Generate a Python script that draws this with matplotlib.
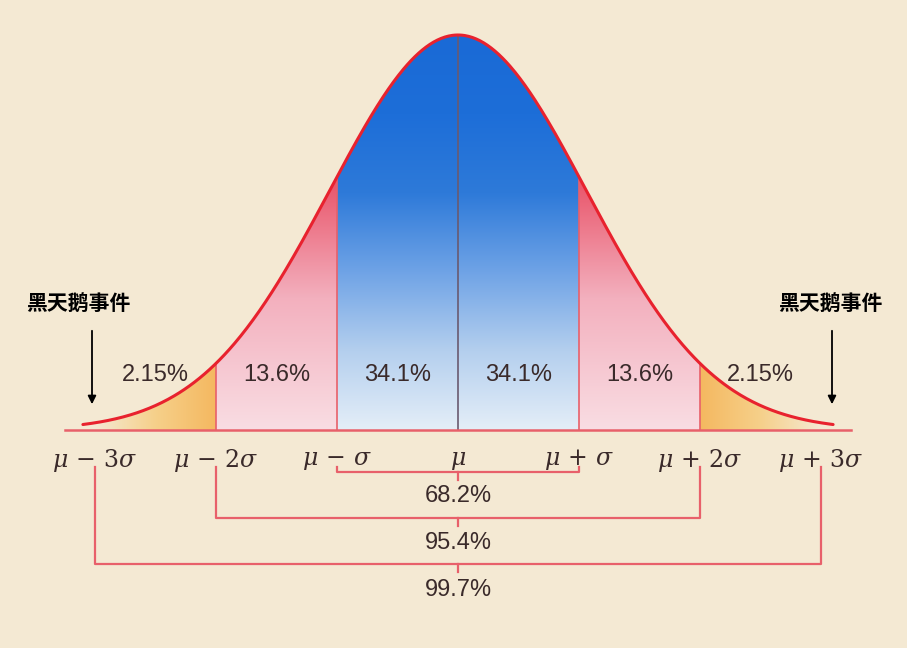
import numpy as np
import matplotlib
matplotlib.use("Agg")
import matplotlib.pyplot as plt
from matplotlib.colors import LinearSegmentedColormap
from matplotlib.patches import Polygon

plt.rcParams['font.family'] = ['Noto Sans CJK SC', 'DejaVu Sans']
plt.rcParams['mathtext.fontset'] = 'dejavuserif'

tick_pos = [-3, -2, -1, 0, 1, 2, 3]
tick_labels = [r'$\mu\,-\,3\sigma$', r'$\mu\,-\,2\sigma$', r'$\mu\,-\,\sigma$', r'$\mu$',
               r'$\mu\,+\,\sigma$', r'$\mu\,+\,2\sigma$', r'$\mu\,+\,3\sigma$']
band_centers = [-2.5, -1.5, -0.5, 0.5, 1.5, 2.5]
band_labels = ['2.15%', '13.6%', '34.1%', '34.1%', '13.6%', '2.15%']
brackets = [1, 2, 3]
bracket_labels = ['68.2%', '95.4%', '99.7%']
event_label = '黑天鹅事件'

BG = '#f4e9d3'
RED = '#e8222e'
LINE = '#e8606a'

fig = plt.figure(figsize=(9.07, 6.48), dpi=100, facecolor=BG)
ax = fig.add_axes([0, 0, 1, 1])
ax.set_facecolor(BG)
S = 121.0
PEAK = 0.39894
K = 395 / PEAK
ax.set_xlim(-458 / S, (907 - 458) / S)
ax.set_ylim(-(648 - 430) / K, PEAK + 35 / K)
ax.axis('off')

W = 1.06  # drawn bell is slightly wider than a unit normal

def pdf(x):
    return PEAK * np.exp(-x**2 / (2 * W**2))

def ypx(p):
    return -(p - 430) / K

def grad_fill(x0, x1, cmap, horizontal=False, reverse=False):
    xs = np.linspace(x0, x1, 200)
    verts = [(x0, 0)] + list(zip(xs, pdf(xs))) + [(x1, 0)]
    poly = Polygon(verts, closed=True, facecolor='none', edgecolor='none')
    ax.add_patch(poly)
    if horizontal:
        g = np.linspace(0, 1, 256)[None, :]
        if reverse:
            g = g[:, ::-1]
    else:
        g = np.linspace(0, 1, 256)[:, None]
    im = ax.imshow(g, cmap=cmap, extent=[x0, x1, 0, PEAK], origin='lower',
                   aspect='auto', zorder=1, interpolation='bilinear')
    im.set_clip_path(poly)

blue = LinearSegmentedColormap.from_list('b', ['#e4eef8', '#b4cfee', '#6fa3e6', '#2e7ad9', '#1d6ed8', '#1a6ad6'])
red = LinearSegmentedColormap.from_list('r', ['#f9dde3', '#f3b0be', '#e84a60', '#e01a30'])
orange = LinearSegmentedColormap.from_list('o', [BG, '#f6d08a', '#f4b860'])

grad_fill(-1, 0, blue)
grad_fill(0, 1, blue)
grad_fill(-2, -1, red)
grad_fill(1, 2, red)
grad_fill(-3, -2, orange, horizontal=True)
grad_fill(2, 3, orange, horizontal=True, reverse=True)

xc = np.linspace(-3.1, 3.1, 600)
ax.plot(xc, pdf(xc), color=RED, lw=2.2, zorder=3, solid_capstyle='round')
ax.plot([-3.25, 3.25], [0, 0], color=LINE, lw=1.8, zorder=3)
for v in [-2, -1, 1, 2]:
    ax.plot([v, v], [0, pdf(v)], color=LINE, lw=1.2, zorder=2)
ax.plot([0, 0], [0, pdf(0)], color='#6a5a70', lw=1.2, zorder=2)

for c, t in zip(band_centers, band_labels):
    ax.text(c, ypx(375), t, ha='center', va='center', fontsize=17, color='#3a2a2a', zorder=4,
            family='Liberation Sans')

for p, t in zip(tick_pos, tick_labels):
    ax.text(p, ypx(460), t, ha='center', va='center', fontsize=17, color='#3a2a2a')

line_y = [472, 518, 564]
txt_y = [496, 543, 590]
for b, ly, ty, t in zip(brackets, line_y, txt_y, bracket_labels):
    ax.plot([-b, -b, b, b], [ypx(467), ypx(ly), ypx(ly), ypx(467)], color=LINE, lw=1.6)
    ax.plot([0, 0], [ypx(ly), ypx(ly + 8)], color=LINE, lw=1.6)
    ax.text(0, ypx(ty), t, ha='center', va='center', fontsize=17, color='#3a2a2a',
            family='Liberation Sans')

for sgn in [-1, 1]:
    xa = (92 - 458) / S if sgn < 0 else (832 - 458) / S
    xt = (78 - 458) / S if sgn < 0 else (830 - 458) / S
    ax.text(xt, ypx(303), event_label, ha='center', va='center', fontsize=15,
            fontweight='bold', color='black')
    ax.annotate('', xy=(xa, ypx(407)), xytext=(xa, ypx(328)),
                arrowprops=dict(arrowstyle='-|>', color='black', lw=1.3, mutation_scale=12))

fig.savefig('out.png', dpi=100, facecolor=BG)
